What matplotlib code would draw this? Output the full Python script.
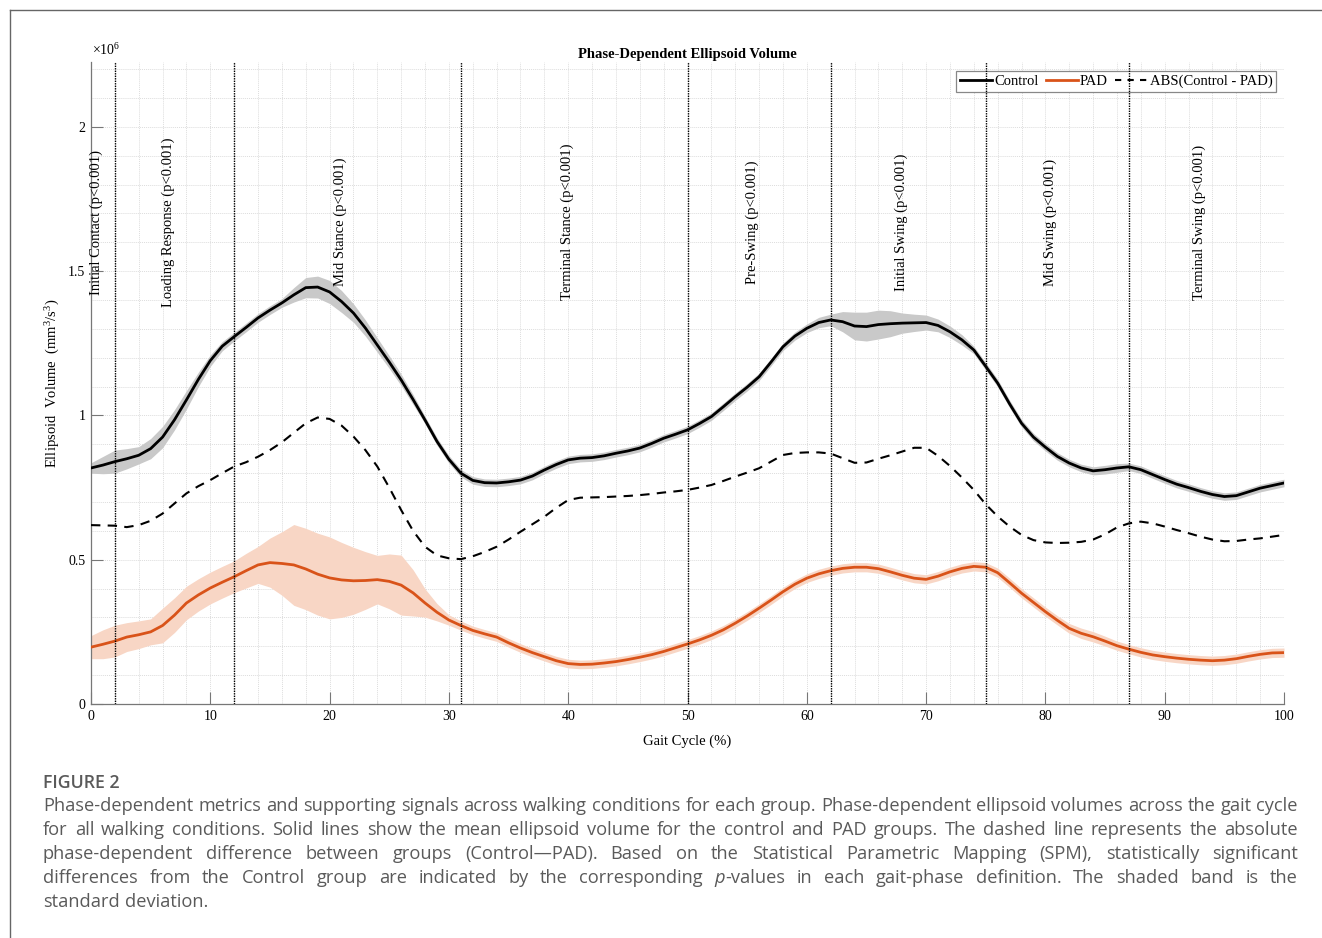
import numpy as np
import matplotlib
matplotlib.use("Agg")
import matplotlib.pyplot as plt
from matplotlib.lines import Line2D
from matplotlib.ticker import MultipleLocator, FuncFormatter

plt.rcParams['font.family'] = ['Liberation Serif', 'DejaVu Serif']
plt.rcParams['mathtext.fontset'] = 'custom'
plt.rcParams['mathtext.rm'] = 'Liberation Serif'
plt.rcParams['mathtext.it'] = 'Liberation Serif:italic'

# gait cycle (%) and volumes (x10^6 mm^3/s^3)
gait = np.arange(0, 101)
control = [0.818, 0.828, 0.840, 0.850, 0.862, 0.885, 0.925, 0.985, 1.054, 1.125,
           1.190, 1.240, 1.273, 1.305, 1.338, 1.365, 1.390, 1.418, 1.443, 1.445,
           1.428, 1.395, 1.355, 1.303, 1.244, 1.185, 1.123, 1.055, 0.984, 0.910,
           0.848, 0.800, 0.775, 0.767, 0.766, 0.770, 0.776, 0.790, 0.811, 0.830,
           0.846, 0.852, 0.854, 0.860, 0.869, 0.877, 0.887, 0.903, 0.921, 0.935,
           0.950, 0.972, 0.996, 1.030, 1.065, 1.098, 1.134, 1.185, 1.238, 1.275,
           1.302, 1.322, 1.331, 1.325, 1.310, 1.308, 1.315, 1.318, 1.320, 1.321,
           1.322, 1.312, 1.290, 1.262, 1.227, 1.170, 1.112, 1.040, 0.973, 0.925,
           0.890, 0.858, 0.835, 0.818, 0.808, 0.812, 0.818, 0.822, 0.812, 0.795,
           0.778, 0.762, 0.750, 0.737, 0.726, 0.719, 0.722, 0.735, 0.748, 0.757,
           0.766]
control_sd = [0.018, 0.030, 0.040, 0.035, 0.030, 0.035, 0.037, 0.035, 0.032, 0.025,
              0.020, 0.016, 0.015, 0.015, 0.015, 0.015, 0.015, 0.025, 0.035, 0.038,
              0.040, 0.038, 0.032, 0.028, 0.025, 0.022, 0.020, 0.017, 0.013, 0.013,
              0.013, 0.013, 0.013, 0.013, 0.013, 0.013, 0.013, 0.013, 0.013, 0.013,
              0.013, 0.013, 0.013, 0.013, 0.013, 0.013, 0.013, 0.013, 0.013, 0.013,
              0.013, 0.013, 0.013, 0.013, 0.013, 0.013, 0.013, 0.013, 0.013, 0.014,
              0.015, 0.018, 0.020, 0.035, 0.048, 0.050, 0.050, 0.045, 0.035, 0.030,
              0.026, 0.022, 0.020, 0.018, 0.013, 0.013, 0.013, 0.013, 0.013, 0.013,
              0.013, 0.013, 0.013, 0.013, 0.014, 0.015, 0.015, 0.013, 0.013, 0.013,
              0.013, 0.013, 0.013, 0.013, 0.013, 0.013, 0.013, 0.013, 0.013, 0.013,
              0.013]
pad = [0.197, 0.207, 0.218, 0.232, 0.240, 0.250, 0.272, 0.308, 0.350, 0.378,
       0.402, 0.422, 0.441, 0.462, 0.482, 0.490, 0.487, 0.482, 0.468, 0.450,
       0.437, 0.430, 0.427, 0.428, 0.431, 0.425, 0.412, 0.385, 0.350, 0.318,
       0.291, 0.272, 0.255, 0.243, 0.232, 0.212, 0.194, 0.178, 0.164, 0.150,
       0.140, 0.137, 0.138, 0.142, 0.147, 0.154, 0.162, 0.171, 0.182, 0.195,
       0.208, 0.222, 0.238, 0.257, 0.280, 0.305, 0.332, 0.360, 0.389, 0.415,
       0.436, 0.451, 0.462, 0.470, 0.474, 0.474, 0.469, 0.458, 0.446, 0.436,
       0.432, 0.443, 0.458, 0.470, 0.477, 0.474, 0.455, 0.420, 0.384, 0.352,
       0.320, 0.290, 0.262, 0.245, 0.233, 0.218, 0.202, 0.190, 0.179, 0.170,
       0.164, 0.159, 0.155, 0.152, 0.150, 0.152, 0.157, 0.165, 0.172, 0.177,
       0.178]
pad_sd = [0.040, 0.050, 0.055, 0.050, 0.048, 0.045, 0.060, 0.060, 0.058, 0.056,
          0.055, 0.055, 0.055, 0.060, 0.064, 0.085, 0.110, 0.140, 0.141, 0.142,
          0.142, 0.130, 0.116, 0.100, 0.084, 0.095, 0.104, 0.080, 0.049, 0.030,
          0.018, 0.016, 0.015, 0.015, 0.015, 0.015, 0.015, 0.015, 0.015, 0.015,
          0.015, 0.015, 0.015, 0.015, 0.015, 0.015, 0.015, 0.015, 0.015, 0.015,
          0.015, 0.015, 0.015, 0.015, 0.015, 0.015, 0.015, 0.015, 0.015, 0.015,
          0.015, 0.016, 0.016, 0.016, 0.016, 0.016, 0.016, 0.016, 0.016, 0.016,
          0.016, 0.016, 0.016, 0.016, 0.016, 0.016, 0.016, 0.016, 0.016, 0.016,
          0.016, 0.016, 0.017, 0.018, 0.018, 0.017, 0.016, 0.016, 0.016, 0.016,
          0.016, 0.016, 0.016, 0.016, 0.016, 0.016, 0.016, 0.016, 0.016, 0.016,
          0.016]
abs_diff = [0.620, 0.619, 0.618, 0.613, 0.620, 0.635, 0.660, 0.695, 0.730, 0.755,
            0.776, 0.800, 0.823, 0.838, 0.857, 0.880, 0.907, 0.940, 0.973, 0.993,
            0.988, 0.965, 0.927, 0.880, 0.823, 0.750, 0.672, 0.600, 0.545, 0.515,
            0.505, 0.502, 0.512, 0.527, 0.545, 0.570, 0.597, 0.623, 0.649, 0.680,
            0.707, 0.715, 0.716, 0.717, 0.719, 0.721, 0.724, 0.728, 0.733, 0.737,
            0.742, 0.750, 0.759, 0.773, 0.788, 0.802, 0.817, 0.840, 0.863, 0.870,
            0.872, 0.872, 0.868, 0.852, 0.836, 0.837, 0.850, 0.862, 0.875, 0.888,
            0.888, 0.860, 0.825, 0.785, 0.742, 0.692, 0.650, 0.615, 0.586, 0.568,
            0.560, 0.558, 0.559, 0.562, 0.570, 0.588, 0.612, 0.626, 0.632, 0.626,
            0.615, 0.603, 0.592, 0.580, 0.570, 0.564, 0.565, 0.570, 0.574, 0.580,
            0.586]

phase_bounds = [2, 12, 31, 50, 62, 75, 87]
phase_names = ["Initial Contact", "Loading Response", "Mid Stance", "Terminal Stance",
               "Pre-Swing", "Initial Swing", "Mid Swing", "Terminal Swing"]
phase_p = ["p<0.001"] * 8

orange = "#D95319"
W, H = 1322, 938

fig = plt.figure(figsize=(W / 100, H / 100), dpi=100)
ax = fig.add_axes([91 / W, 1 - 704 / H, (1284 - 91) / W, (704 - 62) / H])

c = np.array(control)
p = np.array(pad)
ax.fill_between(gait, c - np.array(control_sd), c + np.array(control_sd),
                color="#c9c9c9", lw=0, zorder=2)
ax.fill_between(gait, p - np.array(pad_sd), p + np.array(pad_sd),
                color="#f8d6c5", lw=0, zorder=2)
ax.plot(gait, control, color="k", lw=2.0, zorder=4)
ax.plot(gait, pad, color=orange, lw=2.0, zorder=4)
ax.plot(gait, abs_diff, color="k", lw=1.5, ls=(0, (4.5, 3.5)), zorder=4)

for b in phase_bounds:
    ax.axvline(b, color="k", lw=1.0, ls=(0, (1, 0.8)), zorder=6)

edges = [0] + phase_bounds + [100]
for i, name in enumerate(phase_names):
    mid = (edges[i] + edges[i + 1]) / 2
    ax.text(mid, 1.67, f"{name} ({phase_p[i]})", rotation=90, ha="right",
            va="center", fontsize=10.5, zorder=7)

ax.set_xlim(0, 100)
ax.set_ylim(0, 2.225)
ax.xaxis.set_major_locator(MultipleLocator(10))
ax.xaxis.set_minor_locator(MultipleLocator(2))
ax.yaxis.set_major_locator(MultipleLocator(0.5))
ax.yaxis.set_minor_locator(MultipleLocator(0.1))
ax.yaxis.set_major_formatter(FuncFormatter(lambda v, _: f"{v:g}"))
ax.grid(which="both", color="#dddddd", lw=0.7, ls=(0, (1, 1)), zorder=0)
ax.set_axisbelow(True)
ax.tick_params(which="major", direction="in", length=8.5, width=0.8,
               color="#777777", labelsize=10, pad=4)
ax.tick_params(which="minor", length=0)
for s in ["top", "right"]:
    ax.spines[s].set_visible(False)
for s in ["left", "bottom"]:
    ax.spines[s].set_color("#777777")
    ax.spines[s].set_linewidth(0.9)

ax.set_title("Phase-Dependent Ellipsoid Volume", fontsize=10.5, fontweight="bold", pad=3)
ax.set_xlabel("Gait Cycle (%)", fontsize=10.5)
ax.set_ylabel("Ellipsoid  Volume  (mm$^3$/s$^3$)", fontsize=10.5)
ax.xaxis.set_label_coords(0.5, -0.048)
ax.yaxis.set_label_coords(-0.024, 0.5)
fig.text(92 / W, 1 - 50 / H, r"$\times10^{6}$", fontsize=10, va="center", ha="left")

handles = [Line2D([], [], color="k", lw=2.0),
           Line2D([], [], color=orange, lw=2.0),
           Line2D([], [], color="k", lw=1.5, ls=(0, (3, 3)))]
leg = ax.legend(handles, ["Control", "PAD", "ABS(Control - PAD)"], loc="upper right",
                bbox_to_anchor=(0.9933, 0.986), borderaxespad=0, ncol=3,
                fontsize=10.5, frameon=True, fancybox=False, framealpha=1,
                edgecolor="#888888", borderpad=0.25, handlelength=2.2,
                handletextpad=0.15, columnspacing=0.5)
leg.get_frame().set_linewidth(0.9)
leg.set_zorder(5)

# outer frame (open to the right and bottom)
fig.add_artist(Line2D([9.5 / W, 1.0], [1 - 10.5 / H, 1 - 10.5 / H], color="#666666", lw=1.0))
fig.add_artist(Line2D([9.5 / W, 9.5 / W], [1 - 10.5 / H, 0.0], color="#666666", lw=1.0))

# caption, justified by hand
caption_lines = [
    "Phase-dependent metrics and supporting signals across walking conditions for each group. Phase-dependent ellipsoid volumes across the gait cycle",
    "for all walking conditions. Solid lines show the mean ellipsoid volume for the control and PAD groups. The dashed line represents the absolute",
    "phase-dependent difference between groups (Control\u2014PAD). Based on the Statistical Parametric Mapping (SPM), statistically significant",
    "differences from the Control group are indicated by the corresponding *p*-values in each gait-phase definition. The shaded band is the",
    "standard deviation.",
]
renderer = fig.canvas.get_renderer()
left, right = 43, 1298

probe = fig.text(0, 0, caption_lines[0], family="Open Sans", size=12)
natural = probe.get_window_extent(renderer).width
probe.remove()
cap_size = 12 * (right - left - 8) / natural
cap = dict(family="Open Sans", size=cap_size, color="#5a5a5a")

fig.text(43 / W, 1 - 783 / H, "FIGURE 2", va="center", ha="left",
         family="Open Sans", size=cap_size * 0.97, color="#5a5a5a", fontweight="semibold")

for k, line in enumerate(caption_lines):
    y = 1 - (806 + 24 * k) / H
    words = line.split(" ")
    pieces = []
    total = 0
    for w in words:
        if w.startswith("*p*"):
            parts = [("p", "italic"), (w[3:], "normal")]
        else:
            parts = [(w, "normal")]
        arts = []
        ww = 0
        for txt, st in parts:
            t = fig.text(0, y, txt, va="center", ha="left", fontstyle=st, **cap)
            arts.append((t, ww))
            ww += t.get_window_extent(renderer).width
        pieces.append((arts, ww))
        total += ww
    if k == len(caption_lines) - 1:
        t0 = fig.text(0, 0, "a a", **cap)
        t1 = fig.text(0, 0, "aa", **cap)
        gap = t0.get_window_extent(renderer).width - t1.get_window_extent(renderer).width
        t0.remove()
        t1.remove()
    else:
        gap = (right - left - total) / (len(words) - 1)
    x = left
    for arts, ww in pieces:
        for t, off in arts:
            t.set_x((x + off) / W)
        x += ww + gap

fig.savefig("out.png", dpi=100)
